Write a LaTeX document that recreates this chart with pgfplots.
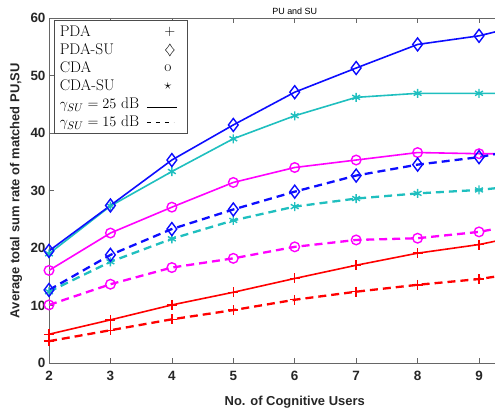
\documentclass[border=0pt]{standalone}
\usepackage{pgfplots}
\pgfplotsset{compat=1.18}
\usepackage{fontspec}
\newfontfamily\arialfont{Liberation Sans}
\definecolor{mblue}{rgb}{0.05,0.05,1}
\definecolor{mcyan}{rgb}{0.12,0.75,0.75}
\definecolor{mmag}{rgb}{1,0,1}
\definecolor{mred}{rgb}{1,0,0}
\begin{document}
\begin{tikzpicture}
\begin{axis}[
  name=ax,
  scale only axis, width=446bp, height=345bp,
  xmin=2, xmax=9.26, ymin=0, ymax=60,
  xtick={2,3,4,5,6,7,8,9}, ytick={0,10,20,30,40,50,60},
  axis x line*=box, axis y line*=left,
  xtick pos=both, xticklabel pos=lower,
  tick align=inside,
  major tick length=5bp,
  axis line style={black!60, line width=0.7bp},
  every tick/.style={black!60, line width=0.7bp},
  tick label style={font=\arialfont\bfseries\fontsize{13.5}{14}\selectfont, text=black!85},
  /pgf/number format/assume math mode=true,
  xticklabel style={yshift=-5bp},
  title={PU and SU},
  title style={font=\arialfont\fontsize{9}{10}\selectfont, at={(axis description cs:0.551,1)}, anchor=south, inner sep=2bp, yshift=-5bp},
  xlabel={No. of Cognitive Users},
  ylabel={Average total sum rate of matched PU,SU},
  label style={font=\arialfont\bfseries\fontsize{13}{14}\selectfont, text=black!85},
  xlabel style={at={(axis description cs:0.551,-0.113)}, anchor=center},
  ylabel style={at={(axis description cs:-0.074,0.5)}, anchor=center},
  legend style={at={(axis description cs:0.0112,0.993)}, anchor=north west, draw=black!70, line width=0.6bp, font=\fontsize{15.5}{17}\selectfont, inner xsep=4bp, inner ysep=2.5bp, row sep=0.5bp, column sep=6bp, fill=white,
    nodes={inner sep=1.5bp, text height=12bp, text depth=2.5bp}},
  legend cell align=left, legend plot pos=right,
  solidl/.style={line width=1.6bp, mark options={solid, line width=1.4bp}},
  dashl/.style={line width=2.3bp, dash pattern=on 8bp off 5bp, mark options={solid, line width=1.4bp}},
  mark indices={1,2,3,4,5,6,7,8},
]
% PDA
\addplot[mred, solidl, mark=+, mark size=5bp, forget plot] coordinates {(2,5.0)(3,7.5)(4,10.1)(5,12.3)(6,14.7)(7,17.0)(8,19.1)(9,20.6)(10,22.8)};
\addplot[mred, dashl, mark=+, mark size=5bp, forget plot] coordinates {(2,3.8)(3,5.7)(4,7.6)(5,9.2)(6,11.0)(7,12.4)(8,13.6)(9,14.6)(10,16.2)};
% CDA
\addplot[mmag, solidl, mark=o, mark size=4.8bp, forget plot] coordinates {(2,16.1)(3,22.6)(4,27.1)(5,31.4)(6,34.0)(7,35.3)(8,36.6)(9,36.4)(10,36.4)};
\addplot[mmag, dashl, mark=o, mark size=4.8bp, forget plot] coordinates {(2,10.1)(3,13.7)(4,16.6)(5,18.2)(6,20.2)(7,21.4)(8,21.7)(9,22.8)(10,24.8)};
% CDA-SU
\addplot[mcyan, solidl, mark=asterisk, mark size=4.5bp, forget plot] coordinates {(2,19.0)(3,27.3)(4,33.3)(5,39.0)(6,43.0)(7,46.2)(8,46.9)(9,46.9)(10,46.9)};
\addplot[mcyan, dashl, mark=asterisk, mark size=4.5bp, forget plot] coordinates {(2,12.4)(3,17.6)(4,21.6)(5,24.8)(6,27.2)(7,28.6)(8,29.5)(9,30.1)(10,31.2)};
% PDA-SU
\addplot[mblue, solidl, mark=diamond, mark size=6.5bp, forget plot] coordinates {(2,19.5)(3,27.4)(4,35.3)(5,41.4)(6,47.1)(7,51.3)(8,55.4)(9,56.9)(10,59.5)};
\addplot[mblue, dashl, mark=diamond, mark size=6.5bp, forget plot] coordinates {(2,12.7)(3,18.8)(4,23.3)(5,26.7)(6,29.8)(7,32.6)(8,34.5)(9,35.8)(10,37.8)};
% legend
\addlegendimage{legend image code/.code={\path[draw=none,fill=none] (0,-4bp) rectangle (36bp,4bp); \node[inner sep=0pt, draw=none, text height=, text depth=] at (17bp,0) {$+$};}}
\addlegendentry{PDA}
\addlegendimage{legend image code/.code={\path[draw=none,fill=none] (0,-4bp) rectangle (36bp,4bp); \node[inner sep=0pt, draw=none, text height=, text depth=] at (17bp,0) {$\diamondsuit$};}}
\addlegendentry{PDA-SU}
\addlegendimage{legend image code/.code={\path[draw=none,fill=none] (0,-4bp) rectangle (36bp,4bp); \node[inner sep=0pt, draw=none, text height=, text depth=] at (17bp,0) {o};}}
\addlegendentry{CDA}
\addlegendimage{legend image code/.code={\path[draw=none,fill=none] (0,-4bp) rectangle (36bp,4bp); \node[inner sep=0pt, draw=none, text height=, text depth=] at (17bp,0) {$\star$};}}
\addlegendentry{CDA-SU}
\addlegendimage{legend image code/.code={\path[draw=none,fill=none] (0,-4bp) rectangle (36bp,4bp); \draw[black, line width=0.6bp] (0,-3bp) -- (30bp,-3bp);}}
\addlegendentry{$\gamma_{SU} = 25$ dB}
\addlegendimage{legend image code/.code={\path[draw=none,fill=none] (0,-4bp) rectangle (36bp,4bp); \draw[black, line width=0.7bp, dash pattern=on 4bp off 5bp] (0,0) -- (27bp,0);}}
\addlegendentry{$\gamma_{SU} = 15$ dB}
\end{axis}
\pgfresetboundingbox
\useasboundingbox ([xshift=-49bp, yshift=-49bp]ax.south west) rectangle ([yshift=18bp]ax.north east);
\end{tikzpicture}
\end{document}
